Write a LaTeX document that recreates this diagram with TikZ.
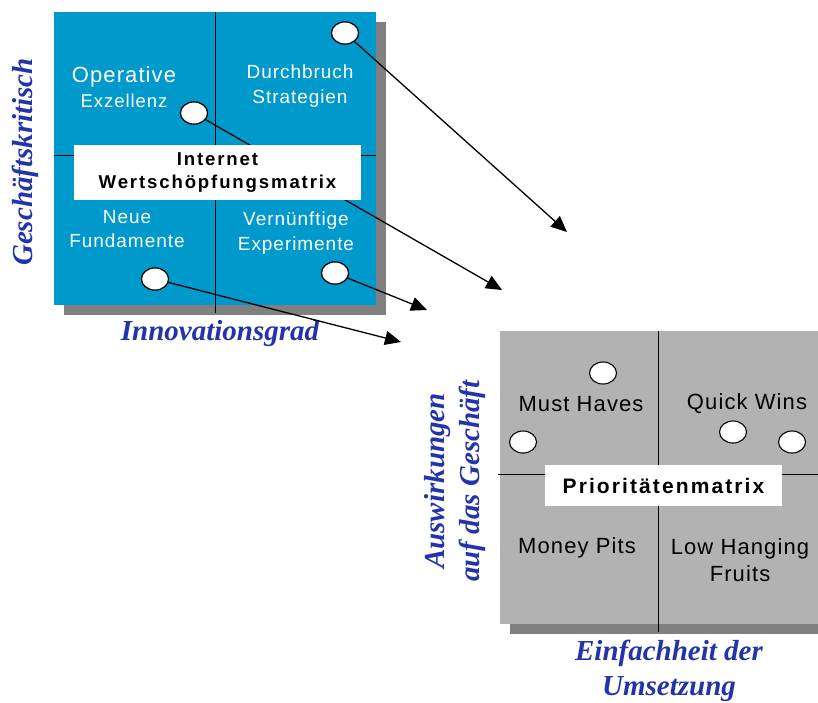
\documentclass[tikz,border=0pt]{standalone}
\usepackage{fontspec}
\setmainfont{Liberation Sans}
\newfontfamily\quadfont[LetterSpace=5]{Liberation Sans}
\newfontfamily\boxfont[LetterSpace=10]{Liberation Sans}
\newfontfamily\axisfont{Liberation Serif}
\usetikzlibrary{arrows.meta,shapes.geometric}
\definecolor{matblue}{RGB}{0,153,204}
\definecolor{matgray}{RGB}{178,178,178}
\definecolor{shadowgray}{RGB}{128,128,128}
\definecolor{axisblue}{RGB}{35,52,170}

\begin{document}
\begin{tikzpicture}[x=1pt,y=-1pt,
	dot/.style={ellipse,draw,line width=1.1pt,fill=white,minimum width=27pt,minimum height=22pt,inner sep=0pt},
	quad/.style={text=white,align=center,inner sep=0pt,font=\quadfont\fontsize{19}{24.5}\selectfont},
	prio/.style={align=center,inner sep=0pt,font=\quadfont\fontsize{22}{27}\selectfont},
	label/.style={fill=white,inner sep=0pt,align=center,font=\boxfont\bfseries},
	axis/.style={text=axisblue,align=center,inner sep=0pt,font=\axisfont\bfseries\itshape\fontsize{29}{34.5}\selectfont},
	pfeil/.style={line width=1.3pt,-{Triangle[length=16pt,width=14pt]}}]
		\useasboundingbox (0,0) rectangle (818,702);
		% Internet Wertschoepfungsmatrix
		\fill[shadowgray] (64,22) rectangle (386,315);
		\fill[matblue] (54,12) rectangle (376,305);
		\draw[line width=1pt] (215,12) -- (215,313);
		\draw[line width=1pt] (54,155) -- (376,155);
		% Prioritaetenmatrix
		\fill[shadowgray] (510,341) rectangle (830,634);
		\fill[matgray] (500,331) rectangle (830,624);
		\draw[line width=1pt] (658,331) -- (658,632);
		\draw[line width=1pt] (498,474) -- (830,474);
		% Achsen
		\node[axis,rotate=90] (gk) at (25,162) {Geschäftskritisch};
		\node[axis] (ig) at (220,334) {Innovationsgrad};
		\node[axis,rotate=90] (ag) at (455,481) {Auswirkungen\\auf das Geschäft};
		\node[axis] (eu) at (669,671) {Einfachheit der\\Umsetzung};
		% Punkte
		\node[dot] (d1) at (345,33) {};
		\node[dot] (d2) at (194,113) {};
		\node[dot] (d3) at (155,279) {};
		\node[dot] (d4) at (335,273) {};
		\coordinate (t1) at (567,232);
		\coordinate (t2) at (502,290);
		\coordinate (t3) at (427,310);
		\coordinate (t4) at (401,342);
		\draw[pfeil] (d1) -- (t1);
		\draw[pfeil] (d2) -- (t2);
		\draw[pfeil] (d3) -- (t4);
		\draw[pfeil] (d4) -- (t3);
		\node[dot] at (d1) {};
		\node[dot] at (d2) {};
		\node[dot] at (d3) {};
		\node[dot] at (d4) {};
		\node[dot] (p1) at (603,373) {};
		\node[dot] (p2) at (523,442) {};
		\node[dot] (p3) at (733,432) {};
		\node[dot] (p4) at (792,442) {};
		% Beschriftungen
		\node[label,minimum width=287pt,minimum height=55pt,font=\boxfont\bfseries\fontsize{18.6}{23}\selectfont] (iw) at (217.5,172.5) {Internet\\Wertschöpfungsmatrix};
		\node[label,minimum width=237pt,minimum height=41pt,font=\boxfont\bfseries\fontsize{21}{25}\selectfont] (pm) at (663.5,485.5) {Prioritätenmatrix};
		\node[quad] (oe) at (124,87) {{\fontsize{22}{24}\selectfont Operative}\\{\fontsize{18.5}{22}\selectfont Exzellenz}};
		\node[quad] (ds) at (300,86) {Durchbruch\\Strategien};
		\node[quad] (nf) at (127,229) {Neue\\Fundamente};
		\node[quad] (ve) at (296,233) {Vernünftige\\Experimente};
		\node[prio] (mh) at (581,404) {Must Haves};
		\node[prio] (qw) at (747,404) {Quick Wins};
		\node[prio] (mp) at (577,548) {Money Pits};
		\node[prio] (lh) at (740,560) {Low Hanging\\Fruits};
	\end{tikzpicture}
\end{document}
